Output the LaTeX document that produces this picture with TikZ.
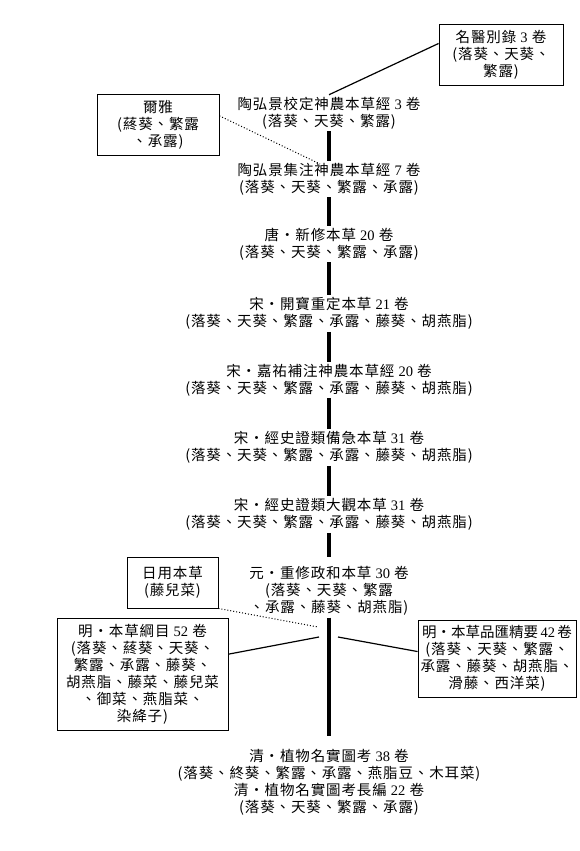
\documentclass[tikz,border=0pt]{standalone}
\usepackage{fontspec}
\setmainfont{Noto Sans CJK TC}[LetterSpace=6]
\newfontfamily\latfont{Liberation Serif}
\newcommand\nm[1]{{\latfont #1}}
\begin{document}
\begin{tikzpicture}[x=1pt,y=-1pt,
  txt/.style={align=center, inner sep=2pt, font=\fontsize{14.5}{17}\selectfont},
  bx/.style={draw, line width=0.9pt, align=center, inner sep=0pt, font=\fontsize{14.5}{17}\selectfont},
  trunk/.style={line width=3.5pt},
  link/.style={line width=1.2pt},
  dots/.style={dotted, line width=1pt}]
\useasboundingbox (0,0) rectangle (579,851);

\node[bx, minimum width=124pt, minimum height=61pt] (mingyi) at (501,54.5) {名醫別錄 \nm{3} 卷\\(落葵、天葵、\\繁露)};
\node[bx, minimum width=122pt, minimum height=61pt] (erya) at (158,124.5) {爾雅\\(蔠葵、繁露\\、承露)};

\node[txt] (tao1) at (329,113) {陶弘景校定神農本草經 \nm{3} 卷\\(落葵、天葵、繁露)};
\node[txt] (tao2) at (329,179) {陶弘景集注神農本草經 \nm{7} 卷\\(落葵、天葵、繁露、承露)};
\node[txt] (tang) at (329,244) {唐・新修本草 \nm{20} 卷\\(落葵、天葵、繁露、承露)};
\node[txt] (kaibao) at (329,313.5) {宋・開寶重定本草 \nm{21} 卷\\(落葵、天葵、繁露、承露、藤葵、胡燕脂)};
\node[txt] (jiayou) at (329,380) {宋・嘉祐補注神農本草經 \nm{20} 卷\\(落葵、天葵、繁露、承露、藤葵、胡燕脂)};
\node[txt] (beiji) at (329,447.5) {宋・經史證類備急本草 \nm{31} 卷\\(落葵、天葵、繁露、承露、藤葵、胡燕脂)};
\node[txt] (daguan) at (329,514.5) {宋・經史證類大觀本草 \nm{31} 卷\\(落葵、天葵、繁露、承露、藤葵、胡燕脂)};
\node[txt] (yuan) at (329,591) {元・重修政和本草 \nm{30} 卷\\(落葵、天葵、繁露\\、承露、藤葵、胡燕脂)};

\node[bx, minimum width=91pt, minimum height=51pt] (riyong) at (172.5,582.5) {日用本草\\(藤兒菜)};
\node[bx, minimum width=171pt, minimum height=112pt] (gangmu) at (142.5,674) {明・本草綱目 \nm{52} 卷\\(落葵、蔠葵、天葵、\\繁露、承露、藤葵、\\胡燕脂、藤菜、藤兒菜\\、御菜、燕脂菜、\\染絳子)};
\node[bx, minimum width=158pt, minimum height=77pt] (pinhui) at (497,658.5) {{\addfontfeature{LetterSpace=0}明·本草品匯精要}\,\nm{42}\,卷\\(落葵、天葵、繁露、\\承露、藤葵、胡燕脂、\\滑藤、西洋菜)};

\node[txt] (qing) at (329,782) {清・植物名實圖考 \nm{38} 卷\\(落葵、終葵、繁露、承露、燕脂豆、木耳菜)\\清・植物名實圖考長編 \nm{22} 卷\\(落葵、天葵、繁露、承露)};

\coordinate (dE) at (320,164);
\coordinate (jd) at (318,627);
\coordinate (jl) at (319,637);
\coordinate (jr) at (338,637);

\draw[trunk] (tao1) -- (tao2);
\draw[trunk] (tao2) -- (tang);
\draw[trunk] (tang) -- (kaibao);
\draw[trunk] (kaibao) -- (jiayou);
\draw[trunk] (jiayou) -- (beiji);
\draw[trunk] (beiji) -- (daguan);
\draw[trunk, shorten >=7pt] (daguan) -- (yuan);
\draw[trunk, shorten >=10.5pt] (yuan) -- (qing);

\draw[link] (mingyi.170) -- (tao1.north);
\draw[dots] (erya.8) -- (dE);
\draw[dots] (riyong.south east) -- (jd);
\draw[link] (gangmu.13) -- (jl);
\draw[link] (pinhui.175) -- (jr);
\end{tikzpicture}
\end{document}
